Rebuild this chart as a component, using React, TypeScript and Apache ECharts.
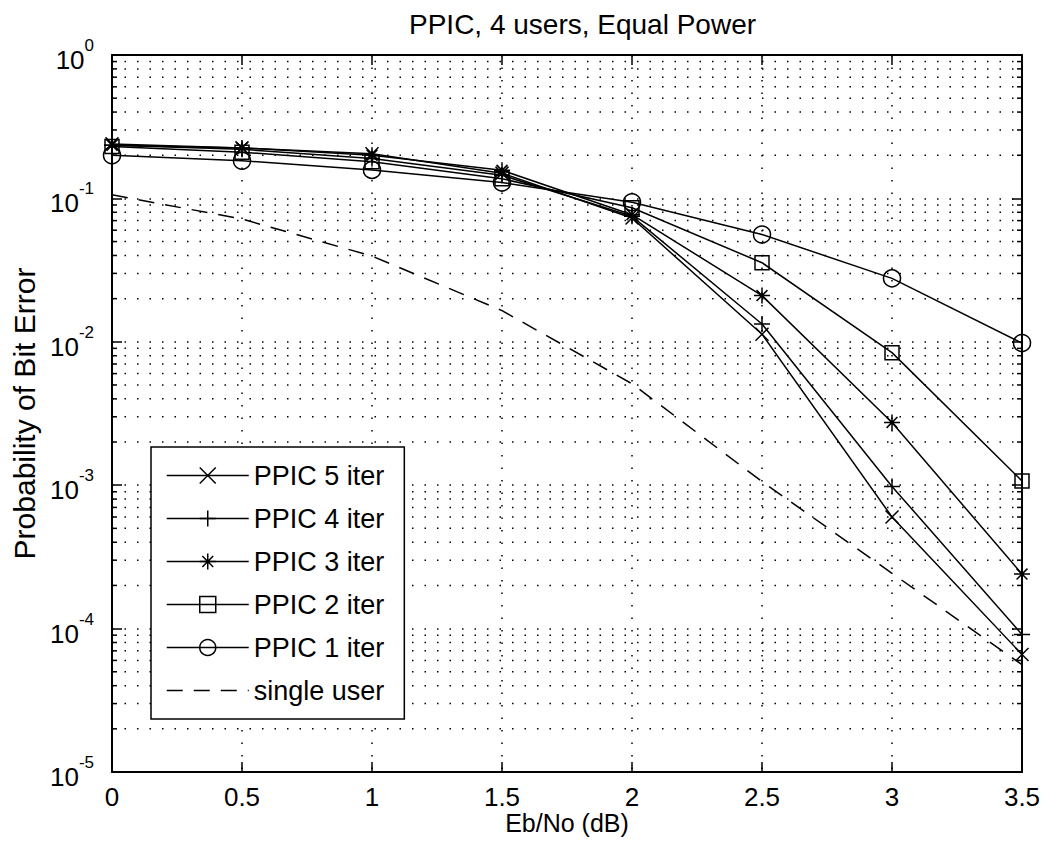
import React, { useEffect, useRef } from "react";
import * as echarts from "echarts";

const FONT = "Liberation Sans";

const ebNo = [0, 0.5, 1, 1.5, 2, 2.5, 3, 3.5];
const ppic5 = [0.24, 0.225, 0.205, 0.15, 0.073, 0.0113, 0.0006, 0.000066];
const ppic4 = [0.235, 0.22, 0.19, 0.145, 0.075, 0.0133, 0.00098, 0.000091];
const ppic3 = [0.235, 0.225, 0.2, 0.157, 0.077, 0.021, 0.00274, 0.00024];
const ppic2 = [0.23, 0.21, 0.18, 0.137, 0.086, 0.0356, 0.0084, 0.00107];
const ppic1 = [0.2, 0.183, 0.158, 0.129, 0.094, 0.056, 0.0277, 0.0098];
const singleUser = [0.106, 0.0718, 0.0396, 0.0165, 0.0051, 0.00106, 0.000243, 0.000056];

const seriesNames = ["PPIC 5 iter", "PPIC 4 iter", "PPIC 3 iter", "PPIC 2 iter", "PPIC 1 iter", "single user"];
const titleText = "PPIC, 4 users, Equal Power";
const xName = "Eb/No (dB)";
const yName = "Probability of Bit Error";

const X_MIN = 0;
const X_MAX = 3.5;
const X_STEP = 0.5;
const Y_MIN = 1e-5;
const Y_MAX = 1;

// minor log grid positions: 2..9 x 10^k
const minorGrid: number[] = [];
for (let k = -5; k < 0; k++) {
  for (let m = 2; m <= 9; m++) minorGrid.push(m * Math.pow(10, k));
}

const SYM_X = "path://M0,0L10,10M10,0L0,10";
const SYM_PLUS = "path://M5,0L5,10M0,5L10,5";
const SYM_STAR = "path://M5,0L5,10M0,5L10,5M1.6,1.6L8.4,8.4M8.4,1.6L1.6,8.4";
const SYM_SQ = "path://M0,0L10,0L10,10L0,10Z";

const DOT: number[] = [1.5, 11];

export default function App() {
  const ref = useRef<HTMLDivElement>(null);
  useEffect(() => {
    if (!ref.current) return;
    const chart = echarts.init(ref.current, null, { renderer: "svg" });
    const pair = (arr: number[]) => ebNo.map((x, i) => [x, arr[i]]);
    const lineSeries = (name: string, arr: number[], symbol: string, size: number, dashed = false) => ({
      name,
      type: "line",
      xAxisIndex: 0,
      yAxisIndex: 0,
      data: pair(arr),
      symbol: dashed ? "none" : symbol,
      symbolSize: size,
      showSymbol: !dashed,
      z: 5,
      lineStyle: { color: "#000", width: 1.5, type: dashed ? [16, 11] : "solid" },
      itemStyle: { color: "transparent", borderColor: "#000", borderWidth: 1.5 },
      emphasis: { disabled: true },
    });
    const option: any = {
      animation: false,
      backgroundColor: "#fff",
      textStyle: { fontFamily: FONT, color: "#000" },
      title: {
        text: titleText,
        left: 404,
        top: 5,
        textStyle: { fontFamily: FONT, fontSize: 28, fontWeight: "normal", color: "#000" },
      },
      grid: { left: 112, top: 55, right: 26, bottom: 75 },
      legend: {
        orient: "vertical",
        left: 151,
        top: 447,
        data: seriesNames.map((n, i) =>
          i === 5
            ? { name: n, itemStyle: { color: "transparent", borderColor: "transparent", borderWidth: 0 } }
            : { name: n }
        ),
        itemWidth: 82,
        itemHeight: 20,
        itemGap: 16,
        padding: [15, 20, 15, 15],
        backgroundColor: "#fff",
        borderColor: "#000",
        borderWidth: 1.5,
        borderRadius: 0,
        selectedMode: false,
        textStyle: { fontFamily: FONT, fontSize: 27, color: "#000" },
        itemStyle: { color: "transparent", borderColor: "#000", borderWidth: 1.5 },
        lineStyle: { color: "#000", width: 1.5 },
      },
      xAxis: [
        {
          type: "value",
          position: "bottom",
          min: X_MIN,
          max: X_MAX,
          interval: X_STEP,
          name: xName,
          nameLocation: "middle",
          nameGap: 38,
          nameMoveOverlap: false,
          nameTextStyle: { fontFamily: FONT, fontSize: 25, color: "#000" },
          axisLine: { show: true, onZero: false, lineStyle: { color: "#000", width: 2 } },
          axisTick: { show: true, inside: true, length: 10, lineStyle: { color: "#000", width: 1.5 } },
          axisLabel: { show: true, margin: 12, fontFamily: FONT, fontSize: 26, color: "#000", showMinLabel: true, showMaxLabel: true },
          splitLine: { show: true, lineStyle: { color: "#000", width: 1.5, type: DOT } },
        },
        {
          type: "value",
          position: "top",
          min: X_MIN,
          max: X_MAX,
          interval: X_STEP,
          axisLine: { show: true, onZero: false, lineStyle: { color: "#000", width: 2 } },
          axisTick: { show: true, inside: true, length: 10, lineStyle: { color: "#000", width: 1.5 } },
          axisLabel: { show: false },
          splitLine: { show: false },
        },
      ],
      yAxis: [
        {
          type: "log",
          logBase: 10,
          position: "left",
          min: Y_MIN,
          max: Y_MAX,
          name: yName,
          nameLocation: "middle",
          nameRotate: 90,
          nameGap: 60,
          nameTextStyle: { fontFamily: FONT, fontSize: 30, color: "#000" },
          axisLine: { show: true, onZero: false, lineStyle: { color: "#000", width: 2 } },
          axisTick: { show: true, inside: true, length: 10, lineStyle: { color: "#000", width: 1.5 } },
          axisLabel: {
            show: true,
            margin: 18,
            formatter: (v: number) => `{b|10}{s|${Math.round(Math.log10(v))}}`,
            rich: {
              b: { fontFamily: FONT, fontSize: 26, color: "#000", verticalAlign: "bottom" },
              s: { fontFamily: FONT, fontSize: 17, color: "#000", verticalAlign: "top" },
            },
            lineHeight: 36,
          },
          splitLine: { show: true, lineStyle: { color: "#000", width: 1.5, type: DOT } },
        },
        {
          type: "log",
          logBase: 10,
          position: "right",
          min: Y_MIN,
          max: Y_MAX,
          axisLine: { show: true, onZero: false, lineStyle: { color: "#000", width: 2 } },
          axisTick: { show: true, inside: true, length: 10, lineStyle: { color: "#000", width: 1.5 } },
          axisLabel: { show: false },
          splitLine: { show: false },
        },
      ],
      series: [
        {
          name: "minorGrid",
          type: "custom",
          xAxisIndex: 0,
          yAxisIndex: 0,
          silent: true,
          z: 1,
          data: minorGrid.map((v) => [X_MIN, v]),
          encode: { x: 0, y: 1 },
          renderItem: (params: any, api: any) => {
            const cs = params.coordSys;
            const y = api.coord([X_MIN, api.value(1)])[1];
            const stroke = { stroke: "#000", lineWidth: 1.5 };
            return {
              type: "group",
              children: [
                { type: "line", shape: { x1: cs.x, y1: y, x2: cs.x + cs.width, y2: y }, style: { ...stroke, lineDash: DOT } },
                { type: "line", shape: { x1: cs.x, y1: y, x2: cs.x + 5, y2: y }, style: stroke },
                { type: "line", shape: { x1: cs.x + cs.width - 5, y1: y, x2: cs.x + cs.width, y2: y }, style: stroke },
              ],
            };
          },
        },
        lineSeries(seriesNames[0], ppic5, SYM_X, 13),
        lineSeries(seriesNames[1], ppic4, SYM_PLUS, 16),
        lineSeries(seriesNames[2], ppic3, SYM_STAR, 16),
        lineSeries(seriesNames[3], ppic2, SYM_SQ, 14),
        lineSeries(seriesNames[4], ppic1, "circle", 17),
        lineSeries(seriesNames[5], singleUser, "none", 0, true),
      ],
    };
    chart.setOption(option);
    return () => chart.dispose();
  }, []);
  return (
    <div
      ref={ref}
      style={{ position: "absolute", left: 0, top: 0, width: 1048, height: 847, background: "#fff" }}
    />
  );
}
